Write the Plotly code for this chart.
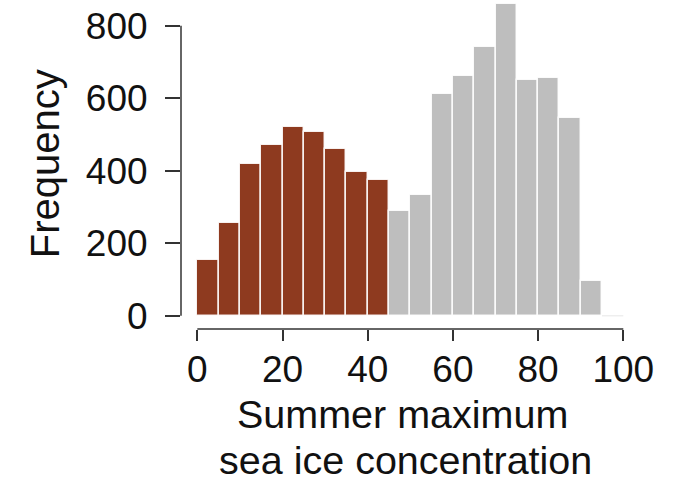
import plotly.graph_objects as go

# Data (bin width 5)
bin_left = [0, 5, 10, 15, 20, 25, 30, 35, 40, 45, 50, 55, 60, 65, 70, 75, 80, 85, 90]
counts = [153, 257, 418, 471, 521, 508, 460, 396, 374, 289, 334, 612, 660, 741, 859, 649, 655, 545, 96]
split_value = 45
x_ticks = [0, 20, 40, 60, 80, 100]
y_ticks = [0, 200, 400, 600, 800]

BROWN = "#8E3A1F"
GREY = "#BEBEBE"
bin_width = 5

centers = [b + bin_width / 2 for b in bin_left]
colors = [BROWN if b < split_value else GREY for b in bin_left]

fig = go.Figure()
fig.add_trace(go.Bar(
    x=centers, y=counts, width=bin_width,
    marker=dict(color=colors, line=dict(color="rgba(255,255,255,0.9)", width=1.5)),
    hoverinfo="x+y",
))

FONT = "Liberation Sans, Arial, sans-serif"

fig.update_layout(
    width=674, height=482,
    margin=dict(l=181, r=34, t=0, b=153),
    paper_bgcolor="white", plot_bgcolor="white",
    showlegend=False,
    bargap=0,
    font=dict(family=FONT, color="#111111"),
    xaxis=dict(
        range=[-3.83, 103.92], tickvals=x_ticks, ticktext=[str(v) for v in x_ticks],
        ticks="outside", ticklen=11, tickwidth=1.5, tickcolor="#333333",
        showgrid=False, zeroline=False, showline=False,
        tickfont=dict(size=37, family=FONT, color="#111111"),
        ticklabelstandoff=-3,
    ),
    yaxis=dict(
        range=[-36.65, 870.8], tickvals=y_ticks, ticktext=[str(v) for v in y_ticks],
        ticks="outside", ticklen=15, tickwidth=1.5, tickcolor="#333333",
        showgrid=False, zeroline=False, showline=False,
        tickfont=dict(size=37, family=FONT, color="#111111"),
        ticklabelstandoff=10,
    ),
)

# R-style axis lines spanning only the tick range
fig.add_shape(type="line", xref="x", yref="paper", x0=x_ticks[0], x1=x_ticks[-1], y0=0, y1=0,
              line=dict(color="#333333", width=1.5))
fig.add_shape(type="line", xref="paper", yref="y", x0=0, x1=0, y0=y_ticks[0], y1=y_ticks[-1],
              line=dict(color="#333333", width=1.5))
# faint baseline of the histogram (empty last bin)
fig.add_shape(type="line", xref="x", yref="y", x0=bin_left[-1] + bin_width, x1=x_ticks[-1], y0=0, y1=0,
              line=dict(color="#eeeeee", width=1.5))

fig.add_annotation(text="Summer maximum", xref="paper", yref="paper", x=0.482, y=-0.258,
                   xanchor="center", yanchor="middle", showarrow=False,
                   font=dict(size=39.5, family=FONT, color="#111111"))
fig.add_annotation(text="sea ice concentration", xref="paper", yref="paper", x=0.49, y=-0.398,
                   xanchor="center", yanchor="middle", showarrow=False,
                   font=dict(size=39.5, family=FONT, color="#111111"))
fig.add_annotation(text="Frequency", xref="paper", yref="paper", x=-0.296, y=0.5015,
                   xanchor="center", yanchor="middle", showarrow=False, textangle=-90,
                   font=dict(size=40, family=FONT, color="#111111"))

fig.write_html("out.html")
